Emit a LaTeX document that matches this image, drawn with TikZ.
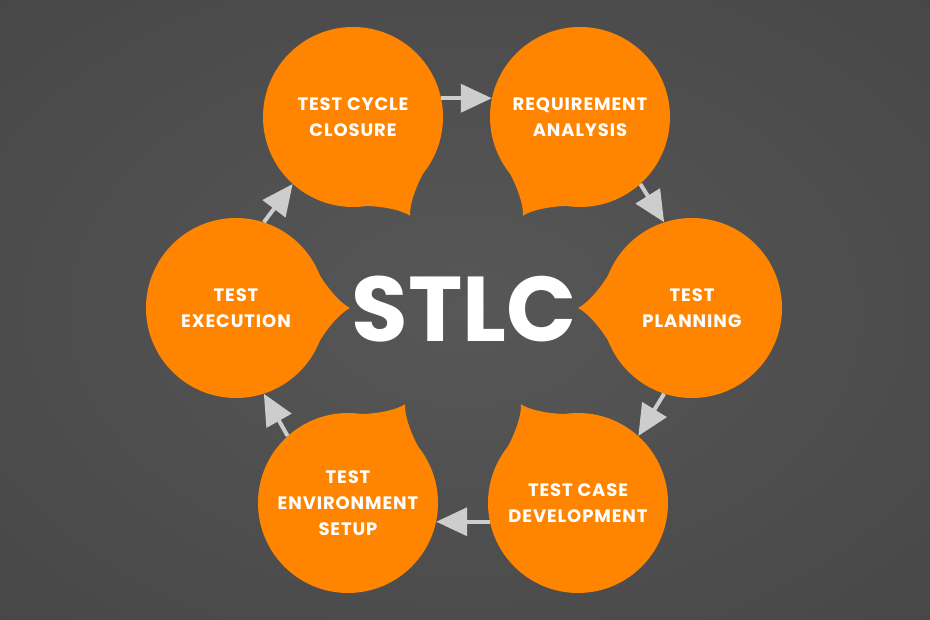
\documentclass[tikz,border=0pt]{standalone}
\usepackage{fontspec}
\setmainfont{Poppins}
\newfontfamily\stagefont{Poppins}[LetterSpace=5]
\usepackage{tikz}
\usetikzlibrary{arrows.meta,calc}

\definecolor{stlcorange}{HTML}{FF8400}
\definecolor{arrowgray}{HTML}{CDCDCD}
\definecolor{bginner}{HTML}{575757}
\definecolor{bgouter}{HTML}{373737}
\pgfdeclareradialshading{backdrop}{\pgfpoint{0bp}{0bp}}{color(0bp)=(bginner); color(72bp)=(bgouter)}

\begin{document}
\begin{tikzpicture}[%
x=1pt,
y=1pt,
stage/.style={circle, fill=stlcorange, minimum size=180pt, inner sep=0pt,
  text=white, align=center, font=\stagefont\fontsize{18}{26}\selectfont\bfseries},
flow/.style={arrowgray, line width=4pt, -{Triangle[length=31pt,width=28pt]}}
]

\shade[shading=backdrop] (-464,-310) rectangle (466,310);
\useasboundingbox (-464,-310) rectangle (466,310);

\node[stage] (tl) at (-111,193) {TEST CYCLE\\CLOSURE};
\node[stage] (tr) at (116,193)  {REQUIREMENT\\ANALYSIS};
\node[stage] (rt) at (228,2)    {TEST\\PLANNING};
\node[stage] (br) at (114,-193) {TEST CASE\\DEVELOPMENT};
\node[stage] (bl) at (-116,-193) {TEST\\ENVIRONMENT\\SETUP};
\node[stage] (lt) at (-228,2)   {TEST\\EXECUTION};

% speech bubble tails towards the middle
\foreach \n/\a in {tl/-60, tr/-120, rt/180, br/120, bl/60, lt/0}
  \fill[stlcorange, shift={(\n)}] (\a+26:89) .. controls (\a+17:91) and (\a+4:101) .. (\a:114)
    .. controls (\a-4:101) and (\a-17:91) .. (\a-26:89) -- cycle;

\node[text=white, font=\fontsize{92}{92}\selectfont\bfseries] (stlc) at (0,1) {STLC};

\foreach \s/\t/\d in {tl/tr/0, tr/rt/-60, rt/br/-120, br/bl/180, bl/lt/120, lt/tl/60}
  {
  \pgfmathtruncatemacro{\sa}{\d+12}
  \pgfmathtruncatemacro{\ta}{\d+168}
  \draw[flow] (\s.\sa) -- (\t.\ta);
  }

\end{tikzpicture}
\end{document}
